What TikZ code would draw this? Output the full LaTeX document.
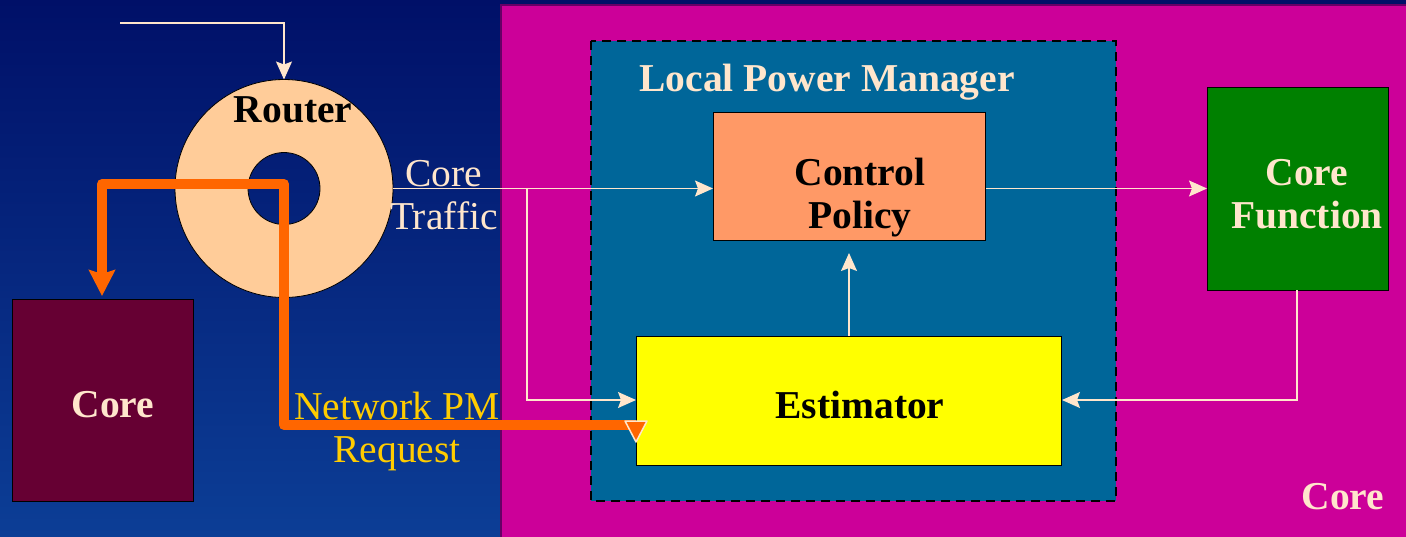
\documentclass[tikz,border=0pt]{standalone}
\usepackage{fontspec}
\setmainfont{Liberation Serif}
\usetikzlibrary{arrows.meta,shadings}
\definecolor{navytop}{RGB}{0,16,104}
\definecolor{navybot}{RGB}{12,62,150}
\definecolor{coremag}{RGB}{204,0,153}
\definecolor{magedge}{RGB}{102,0,102}
\definecolor{lpmblue}{RGB}{0,102,153}
\definecolor{policy}{RGB}{255,153,102}
\definecolor{estim}{RGB}{255,255,0}
\definecolor{funcgreen}{RGB}{0,128,0}
\definecolor{corewine}{RGB}{102,0,51}
\definecolor{ringfill}{RGB}{255,204,153}
\definecolor{cream}{RGB}{255,230,204}
\definecolor{pmorange}{RGB}{255,102,0}
\definecolor{pmtext}{RGB}{255,204,0}
\tikzset{
  x=1pt, y=-1pt,
  bigfont/.style={font=\fontsize{39.5}{43}\selectfont},
  boldfont/.style={font=\fontsize{39.5}{43}\selectfont\bfseries},
  blockbox/.style={draw=black, line width=1pt, inner sep=0pt, anchor=north west},
  flow/.style={draw=cream, line width=1.2pt,
    -{Stealth[length=18pt,width=16pt,inset=3pt]}},
  pmflow/.style={draw=pmorange, line width=10pt, line join=round,
    -{Stealth[length=26pt,width=26pt,inset=4pt]}},
}
\begin{document}
\begin{tikzpicture}
\useasboundingbox (0,0) rectangle (1406,536);
% backdrop of the network side
\shade[top color=navytop, bottom color=navybot] (0,0) rectangle (1406,536);
% the core region
\path[fill=coremag, draw=magedge, line width=1.5pt] (501,5) rectangle (1410,540);
% local power manager frame
\path[fill=lpmblue, draw=black, dashed, dash pattern=on 9pt off 6pt, line width=1.2pt]
  (591,41) rectangle (1116,501);
\node[boldfont, text=cream] (lpm) at (827,82) {Local Power Manager};

% blocks
\node[blockbox, fill=policy, minimum width=272pt, minimum height=128pt] (policy) at (713,112) {};
\node[boldfont, align=center, text=black] (policytxt) at (860,198) {Control\\Policy};
\node[blockbox, fill=estim, minimum width=425pt, minimum height=129pt] (estim) at (636,336) {};
\node[boldfont, text=black] (estimtxt) at (860,405) {Estimator};
\node[blockbox, fill=funcgreen, minimum width=181pt, minimum height=203pt] (func) at (1207,87) {};
\node[boldfont, align=center, text=cream] (functxt) at (1307,194) {Core\\Function};
\node[blockbox, fill=corewine, minimum width=181pt, minimum height=202pt] (lcore) at (12,299) {};
\node[boldfont, text=cream] (lcoretxt) at (113,405) {Core};
\node[boldfont, text=cream] (rcore) at (1343,497) {Core};

% router ring
\path[fill=ringfill, draw=black, line width=0.8pt, even odd rule]
  (284,188.5) circle[radius=109] (284,188.5) circle[radius=36];
\node[boldfont, text=black] (router) at (293,110) {Router};
\coordinate (rtop) at (284,79.5);
\coordinate (rright) at (393,188.5);
\coordinate (feed) at (120,23);

% traffic connectors
\draw[flow] (feed) -- (feed -| rtop) -- (rtop);
\coordinate (split) at (527,188.5);
\draw[flow] (rright) -- (rright -| policy.west);
\draw[flow] (split) |- (636,400);
\node[bigfont, text=cream, align=center] (traffic) at (444,195) {Core\\Traffic};
\draw[flow] (policy.east |- rright) -- (func.west |- rright);
\coordinate (up) at (849,253);
\draw[flow] (849,336) -- (up);
\draw[flow] (1297,290) |- (estim.east |- 0,400);

% power management request path
\coordinate (pmend) at (636,425);
\draw[pmflow] (pmend) -- (284,425) -- (284,184) -- (102,184) -- (102,296);
\path[fill=pmorange, draw=cream, line width=1.5pt, line join=round]
  (625,421) -- (647,421) -- (636,442) -- cycle;
\node[bigfont, text=pmtext, align=center] (pmreq) at (397,431) {Network PM\\Request};
\end{tikzpicture}
\end{document}
